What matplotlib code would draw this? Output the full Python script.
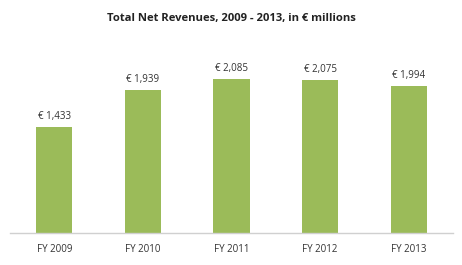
import matplotlib
matplotlib.use("Agg")
import matplotlib.pyplot as plt

categories = ["FY 2009", "FY 2010", "FY 2011", "FY 2012", "FY 2013"]
revenues = [1433, 1939, 2085, 2075, 1994]
value_labels = ["€ 1,433", "€ 1,939", "€ 2,085", "€ 2,075", "€ 1,994"]
title = "Total Net Revenues, 2009 - 2013, in € millions"

plt.rcParams['font.family'] = ['Open Sans', 'DejaVu Sans']

fig = plt.figure(figsize=(4.62, 2.65), dpi=100)
ax = fig.add_axes([10/462, 32/265, 443/462, 184.5/265])
x = range(len(categories))
bars = ax.bar(x, revenues, width=0.41, color="#9BBB59")
ax.set_xlim(-0.5, len(categories) - 0.5)
ax.set_ylim(0, 2500)
for xi, v, lab in zip(x, revenues, value_labels):
    ax.text(xi, v + 65, lab, ha="center", va="bottom", fontsize=7, color="#333333")
ax.set_xticks(list(x))
ax.set_xticklabels(categories, fontsize=7, color="#333333")
ax.tick_params(axis="x", length=0, pad=8)
ax.set_yticks([])
for s in ["top", "right", "left"]:
    ax.spines[s].set_visible(False)
ax.spines["bottom"].set_color("#D0D0D0")
ax.spines["bottom"].set_linewidth(1.0)
fig.text(231/462, 1 - 19/265, title, ha="center", va="center", fontsize=8.1, fontweight="bold", color="#222222")
fig.savefig("out.png", dpi=100, facecolor="white")
